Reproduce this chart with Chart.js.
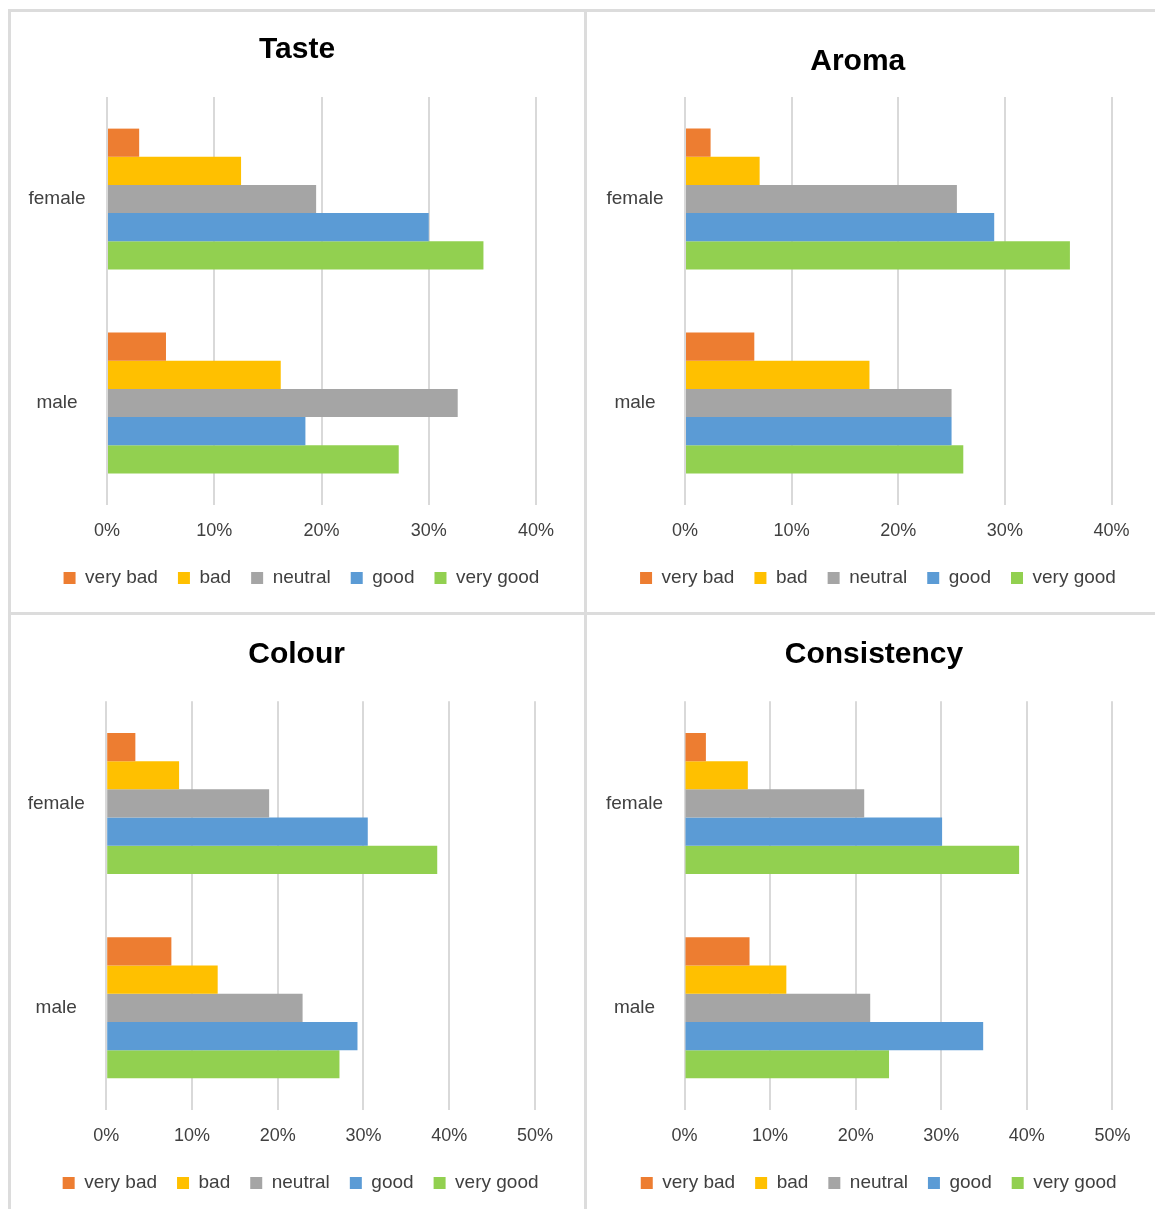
<!DOCTYPE html>
<html>
<head>
<meta charset="utf-8">
<script src="https://cdn.jsdelivr.net/npm/chart.js@4/dist/chart.umd.min.js"></script>
<style>
  body { margin: 0; background: #fff; width: 1155px; height: 1209px; position: relative; overflow: hidden; }
  .panel { position: absolute; box-sizing: border-box; border: 3px solid #dcdcdc; }
  canvas { position: absolute; }
</style>
</head>
<body>
<div class="panel" style="left:8px;top:9px;width:579px;height:606px"></div>
<div class="panel" style="left:584px;top:9px;width:620px;height:606px"></div>
<div class="panel" style="left:8px;top:612px;width:579px;height:620px"></div>
<div class="panel" style="left:584px;top:612px;width:620px;height:620px"></div>

<canvas id="taste" width="575" height="600" style="left:10px;top:11px"></canvas>
<canvas id="aroma" width="568" height="600" style="left:587px;top:11px"></canvas>
<canvas id="colour" width="575" height="595" style="left:10px;top:614px"></canvas>
<canvas id="consistency" width="568" height="595" style="left:587px;top:614px"></canvas>

<script>
// survey answers, % of respondents per rating
var groups = ['female', 'male'];
var ratings = ['very bad', 'bad', 'neutral', 'good', 'very good'];
var ratingColors = ['#ED7D31', '#FFC000', '#A5A5A5', '#5B9BD5', '#92D050'];

var tasteFemale = [3.0, 12.5, 19.5, 30.0, 35.1];
var tasteMale = [5.5, 16.2, 32.7, 18.5, 27.2];
var aromaFemale = [2.4, 7.0, 25.5, 29.0, 36.1];
var aromaMale = [6.5, 17.3, 25.0, 25.0, 26.1];
var colourFemale = [3.4, 8.5, 19.0, 30.5, 38.6];
var colourMale = [7.6, 13.0, 22.9, 29.3, 27.2];
var consistencyFemale = [2.5, 7.4, 21.0, 30.1, 39.1];
var consistencyMale = [7.6, 11.9, 21.7, 34.9, 23.9];

var ticksTop = [0, 10, 20, 30, 40];
var ticksBottom = [0, 10, 20, 30, 40, 50];

var FONT = "'Liberation Sans', Arial, sans-serif";
var TEXT = '#404040';

// title and legend sit off-centre from the plot, so shift them after layout
var boxNudge = {
    id: 'boxNudge',
    afterLayout: function(chart, args, opts) {
        var t = chart.titleBlock;
        if (t && opts.titleDx) {
            t.left += opts.titleDx;
            t.right += opts.titleDx;
        }
        var l = chart.legend;
        if (l && opts.legendDx) {
            l.left += opts.legendDx;
            l.right += opts.legendDx;
        }
    }
};

function makeChart(id, title, female, male, ticks, lay) {
    var datasets = ratings.map(function(r, i) {
        return {
            label: r,
            data: [female[i], male[i]],
            backgroundColor: ratingColors[i],
            borderWidth: 0,
            categoryPercentage: 0.69,
            barPercentage: 1.0
        };
    });

    return new Chart(document.getElementById(id), {
        type: 'bar',
        data: { labels: groups, datasets: datasets },
        plugins: [boxNudge],
        options: {
            indexAxis: 'y',
            responsive: false,
            animation: false,
            events: [],
            layout: { padding: { left: 0, right: lay.padRight, top: 0, bottom: lay.padBottom } },
            scales: {
                x: {
                    min: ticks[0],
                    max: ticks[ticks.length - 1],
                    afterBuildTicks: function(scale) {
                        scale.ticks = ticks.map(function(v) { return { value: v }; });
                    },
                    afterFit: function(scale) { scale.height = 43.5; },
                    grid: { color: '#d9d9d9', lineWidth: 2, drawTicks: false },
                    border: { display: false },
                    ticks: {
                        padding: 15,
                        color: TEXT,
                        font: { family: FONT, size: 18 },
                        callback: function(v) { return v + '%'; }
                    }
                },
                y: {
                    afterFit: function(scale) { scale.width = lay.axisWidth; },
                    grid: { display: false, drawTicks: false },
                    border: { display: false },
                    ticks: {
                        padding: 21.5,
                        crossAlign: 'center',
                        color: TEXT,
                        font: { family: FONT, size: 19 }
                    }
                }
            },
            plugins: {
                title: {
                    display: true,
                    text: title,
                    color: '#000',
                    font: { family: FONT, size: 30, weight: 'bold' },
                    padding: { top: lay.titleTop, bottom: lay.titleBottom }
                },
                boxNudge: { titleDx: lay.titleDx, legendDx: lay.legendDx },
                legend: {
                    position: 'bottom',
                    labels: {
                        boxWidth: 12,
                        boxHeight: 12,
                        padding: 20,
                        color: TEXT,
                        font: { family: FONT, size: 19 }
                    }
                },
                tooltip: { enabled: false }
            }
        }
    });
}

window.onload = function() {
    makeChart('taste', 'Taste', tasteFemale, tasteMale, ticksTop,
        { padRight: 49, padBottom: 13.5, axisWidth: 97, titleTop: 21, titleBottom: 29, titleDx: 24, legendDx: 28.5 });
    makeChart('aroma', 'Aroma', aromaFemale, aromaMale, ticksTop,
        { padRight: 43.5, padBottom: 13.5, axisWidth: 98, titleTop: 32.5, titleBottom: 17.5, titleDx: 8.5, legendDx: 28.75 });
    makeChart('colour', 'Colour', colourFemale, colourMale, ticksBottom,
        { padRight: 50, padBottom: 6.5, axisWidth: 96.2, titleTop: 22.4, titleBottom: 28.9, titleDx: 24.1, legendDx: 28.1 });
    makeChart('consistency', 'Consistency', consistencyFemale, consistencyMale, ticksBottom,
        { padRight: 42.6, padBottom: 6.5, axisWidth: 97.5, titleTop: 22.4, titleBottom: 28.9, titleDx: 24.3, legendDx: 29 });
};
</script>
</body>
</html>
